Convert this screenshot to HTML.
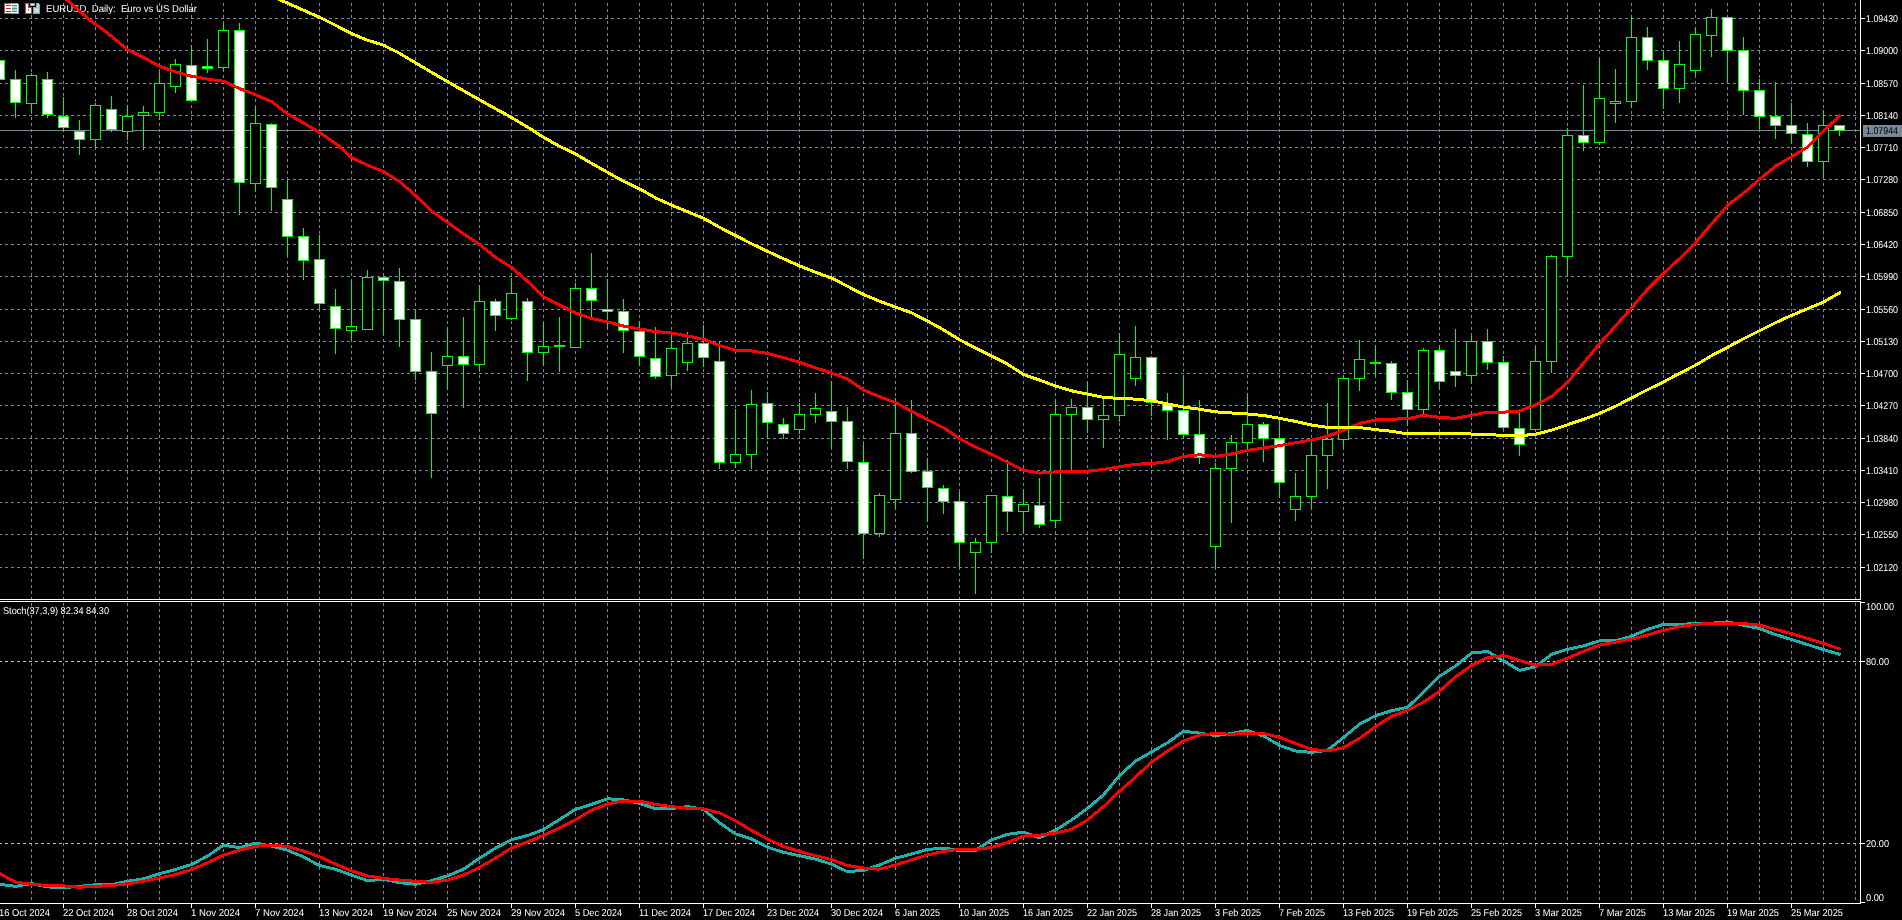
<!DOCTYPE html>
<html><head><meta charset="utf-8"><title>EURUSD, Daily</title>
<style>
html,body{margin:0;padding:0;background:#000;overflow:hidden;}
svg{display:block;}
text{font-family:"Liberation Sans",Arial,sans-serif;font-size:10px;fill:#fff;text-rendering:geometricPrecision;}
.t{will-change:transform;}
</style></head><body>
<svg width="1902" height="920" viewBox="0 0 1902 920">
<rect x="0" y="0" width="1902" height="920" fill="#000"/>
<g stroke="#778899" stroke-width="1" shape-rendering="crispEdges" stroke-dasharray="3 3">
<line x1="0" y1="18.5" x2="1857" y2="18.5" stroke-dashoffset="1"/>
<line x1="0" y1="50.5" x2="1857" y2="50.5" stroke-dashoffset="1"/>
<line x1="0" y1="83.5" x2="1857" y2="83.5" stroke-dashoffset="1"/>
<line x1="0" y1="115.5" x2="1857" y2="115.5" stroke-dashoffset="1"/>
<line x1="0" y1="147.5" x2="1857" y2="147.5" stroke-dashoffset="1"/>
<line x1="0" y1="179.5" x2="1857" y2="179.5" stroke-dashoffset="1"/>
<line x1="0" y1="212.5" x2="1857" y2="212.5" stroke-dashoffset="1"/>
<line x1="0" y1="244.5" x2="1857" y2="244.5" stroke-dashoffset="1"/>
<line x1="0" y1="276.5" x2="1857" y2="276.5" stroke-dashoffset="1"/>
<line x1="0" y1="309.5" x2="1857" y2="309.5" stroke-dashoffset="1"/>
<line x1="0" y1="341.5" x2="1857" y2="341.5" stroke-dashoffset="1"/>
<line x1="0" y1="373.5" x2="1857" y2="373.5" stroke-dashoffset="1"/>
<line x1="0" y1="405.5" x2="1857" y2="405.5" stroke-dashoffset="1"/>
<line x1="0" y1="438.5" x2="1857" y2="438.5" stroke-dashoffset="1"/>
<line x1="0" y1="470.5" x2="1857" y2="470.5" stroke-dashoffset="1"/>
<line x1="0" y1="502.5" x2="1857" y2="502.5" stroke-dashoffset="1"/>
<line x1="0" y1="534.5" x2="1857" y2="534.5" stroke-dashoffset="1"/>
<line x1="0" y1="567.5" x2="1857" y2="567.5" stroke-dashoffset="1"/>
<line x1="31.5" y1="0" x2="31.5" y2="599" stroke-dashoffset="3"/>
<line x1="31.5" y1="602" x2="31.5" y2="903" stroke-dashoffset="5"/>
<line x1="63.5" y1="0" x2="63.5" y2="599" stroke-dashoffset="3"/>
<line x1="63.5" y1="602" x2="63.5" y2="903" stroke-dashoffset="5"/>
<line x1="95.5" y1="0" x2="95.5" y2="599" stroke-dashoffset="3"/>
<line x1="95.5" y1="602" x2="95.5" y2="903" stroke-dashoffset="5"/>
<line x1="127.5" y1="0" x2="127.5" y2="599" stroke-dashoffset="3"/>
<line x1="127.5" y1="602" x2="127.5" y2="903" stroke-dashoffset="5"/>
<line x1="159.5" y1="0" x2="159.5" y2="599" stroke-dashoffset="3"/>
<line x1="159.5" y1="602" x2="159.5" y2="903" stroke-dashoffset="5"/>
<line x1="191.5" y1="0" x2="191.5" y2="599" stroke-dashoffset="3"/>
<line x1="191.5" y1="602" x2="191.5" y2="903" stroke-dashoffset="5"/>
<line x1="223.5" y1="0" x2="223.5" y2="599" stroke-dashoffset="3"/>
<line x1="223.5" y1="602" x2="223.5" y2="903" stroke-dashoffset="5"/>
<line x1="255.5" y1="0" x2="255.5" y2="599" stroke-dashoffset="3"/>
<line x1="255.5" y1="602" x2="255.5" y2="903" stroke-dashoffset="5"/>
<line x1="287.5" y1="0" x2="287.5" y2="599" stroke-dashoffset="3"/>
<line x1="287.5" y1="602" x2="287.5" y2="903" stroke-dashoffset="5"/>
<line x1="319.5" y1="0" x2="319.5" y2="599" stroke-dashoffset="3"/>
<line x1="319.5" y1="602" x2="319.5" y2="903" stroke-dashoffset="5"/>
<line x1="351.5" y1="0" x2="351.5" y2="599" stroke-dashoffset="3"/>
<line x1="351.5" y1="602" x2="351.5" y2="903" stroke-dashoffset="5"/>
<line x1="383.5" y1="0" x2="383.5" y2="599" stroke-dashoffset="3"/>
<line x1="383.5" y1="602" x2="383.5" y2="903" stroke-dashoffset="5"/>
<line x1="415.5" y1="0" x2="415.5" y2="599" stroke-dashoffset="3"/>
<line x1="415.5" y1="602" x2="415.5" y2="903" stroke-dashoffset="5"/>
<line x1="447.5" y1="0" x2="447.5" y2="599" stroke-dashoffset="3"/>
<line x1="447.5" y1="602" x2="447.5" y2="903" stroke-dashoffset="5"/>
<line x1="479.5" y1="0" x2="479.5" y2="599" stroke-dashoffset="3"/>
<line x1="479.5" y1="602" x2="479.5" y2="903" stroke-dashoffset="5"/>
<line x1="511.5" y1="0" x2="511.5" y2="599" stroke-dashoffset="3"/>
<line x1="511.5" y1="602" x2="511.5" y2="903" stroke-dashoffset="5"/>
<line x1="543.5" y1="0" x2="543.5" y2="599" stroke-dashoffset="3"/>
<line x1="543.5" y1="602" x2="543.5" y2="903" stroke-dashoffset="5"/>
<line x1="575.5" y1="0" x2="575.5" y2="599" stroke-dashoffset="3"/>
<line x1="575.5" y1="602" x2="575.5" y2="903" stroke-dashoffset="5"/>
<line x1="607.5" y1="0" x2="607.5" y2="599" stroke-dashoffset="3"/>
<line x1="607.5" y1="602" x2="607.5" y2="903" stroke-dashoffset="5"/>
<line x1="639.5" y1="0" x2="639.5" y2="599" stroke-dashoffset="3"/>
<line x1="639.5" y1="602" x2="639.5" y2="903" stroke-dashoffset="5"/>
<line x1="671.5" y1="0" x2="671.5" y2="599" stroke-dashoffset="3"/>
<line x1="671.5" y1="602" x2="671.5" y2="903" stroke-dashoffset="5"/>
<line x1="703.5" y1="0" x2="703.5" y2="599" stroke-dashoffset="3"/>
<line x1="703.5" y1="602" x2="703.5" y2="903" stroke-dashoffset="5"/>
<line x1="735.5" y1="0" x2="735.5" y2="599" stroke-dashoffset="3"/>
<line x1="735.5" y1="602" x2="735.5" y2="903" stroke-dashoffset="5"/>
<line x1="767.5" y1="0" x2="767.5" y2="599" stroke-dashoffset="3"/>
<line x1="767.5" y1="602" x2="767.5" y2="903" stroke-dashoffset="5"/>
<line x1="799.5" y1="0" x2="799.5" y2="599" stroke-dashoffset="3"/>
<line x1="799.5" y1="602" x2="799.5" y2="903" stroke-dashoffset="5"/>
<line x1="831.5" y1="0" x2="831.5" y2="599" stroke-dashoffset="3"/>
<line x1="831.5" y1="602" x2="831.5" y2="903" stroke-dashoffset="5"/>
<line x1="863.5" y1="0" x2="863.5" y2="599" stroke-dashoffset="3"/>
<line x1="863.5" y1="602" x2="863.5" y2="903" stroke-dashoffset="5"/>
<line x1="895.5" y1="0" x2="895.5" y2="599" stroke-dashoffset="3"/>
<line x1="895.5" y1="602" x2="895.5" y2="903" stroke-dashoffset="5"/>
<line x1="927.5" y1="0" x2="927.5" y2="599" stroke-dashoffset="3"/>
<line x1="927.5" y1="602" x2="927.5" y2="903" stroke-dashoffset="5"/>
<line x1="959.5" y1="0" x2="959.5" y2="599" stroke-dashoffset="3"/>
<line x1="959.5" y1="602" x2="959.5" y2="903" stroke-dashoffset="5"/>
<line x1="991.5" y1="0" x2="991.5" y2="599" stroke-dashoffset="3"/>
<line x1="991.5" y1="602" x2="991.5" y2="903" stroke-dashoffset="5"/>
<line x1="1023.5" y1="0" x2="1023.5" y2="599" stroke-dashoffset="3"/>
<line x1="1023.5" y1="602" x2="1023.5" y2="903" stroke-dashoffset="5"/>
<line x1="1055.5" y1="0" x2="1055.5" y2="599" stroke-dashoffset="3"/>
<line x1="1055.5" y1="602" x2="1055.5" y2="903" stroke-dashoffset="5"/>
<line x1="1087.5" y1="0" x2="1087.5" y2="599" stroke-dashoffset="3"/>
<line x1="1087.5" y1="602" x2="1087.5" y2="903" stroke-dashoffset="5"/>
<line x1="1119.5" y1="0" x2="1119.5" y2="599" stroke-dashoffset="3"/>
<line x1="1119.5" y1="602" x2="1119.5" y2="903" stroke-dashoffset="5"/>
<line x1="1151.5" y1="0" x2="1151.5" y2="599" stroke-dashoffset="3"/>
<line x1="1151.5" y1="602" x2="1151.5" y2="903" stroke-dashoffset="5"/>
<line x1="1183.5" y1="0" x2="1183.5" y2="599" stroke-dashoffset="3"/>
<line x1="1183.5" y1="602" x2="1183.5" y2="903" stroke-dashoffset="5"/>
<line x1="1215.5" y1="0" x2="1215.5" y2="599" stroke-dashoffset="3"/>
<line x1="1215.5" y1="602" x2="1215.5" y2="903" stroke-dashoffset="5"/>
<line x1="1247.5" y1="0" x2="1247.5" y2="599" stroke-dashoffset="3"/>
<line x1="1247.5" y1="602" x2="1247.5" y2="903" stroke-dashoffset="5"/>
<line x1="1279.5" y1="0" x2="1279.5" y2="599" stroke-dashoffset="3"/>
<line x1="1279.5" y1="602" x2="1279.5" y2="903" stroke-dashoffset="5"/>
<line x1="1311.5" y1="0" x2="1311.5" y2="599" stroke-dashoffset="3"/>
<line x1="1311.5" y1="602" x2="1311.5" y2="903" stroke-dashoffset="5"/>
<line x1="1343.5" y1="0" x2="1343.5" y2="599" stroke-dashoffset="3"/>
<line x1="1343.5" y1="602" x2="1343.5" y2="903" stroke-dashoffset="5"/>
<line x1="1375.5" y1="0" x2="1375.5" y2="599" stroke-dashoffset="3"/>
<line x1="1375.5" y1="602" x2="1375.5" y2="903" stroke-dashoffset="5"/>
<line x1="1407.5" y1="0" x2="1407.5" y2="599" stroke-dashoffset="3"/>
<line x1="1407.5" y1="602" x2="1407.5" y2="903" stroke-dashoffset="5"/>
<line x1="1439.5" y1="0" x2="1439.5" y2="599" stroke-dashoffset="3"/>
<line x1="1439.5" y1="602" x2="1439.5" y2="903" stroke-dashoffset="5"/>
<line x1="1471.5" y1="0" x2="1471.5" y2="599" stroke-dashoffset="3"/>
<line x1="1471.5" y1="602" x2="1471.5" y2="903" stroke-dashoffset="5"/>
<line x1="1503.5" y1="0" x2="1503.5" y2="599" stroke-dashoffset="3"/>
<line x1="1503.5" y1="602" x2="1503.5" y2="903" stroke-dashoffset="5"/>
<line x1="1535.5" y1="0" x2="1535.5" y2="599" stroke-dashoffset="3"/>
<line x1="1535.5" y1="602" x2="1535.5" y2="903" stroke-dashoffset="5"/>
<line x1="1567.5" y1="0" x2="1567.5" y2="599" stroke-dashoffset="3"/>
<line x1="1567.5" y1="602" x2="1567.5" y2="903" stroke-dashoffset="5"/>
<line x1="1599.5" y1="0" x2="1599.5" y2="599" stroke-dashoffset="3"/>
<line x1="1599.5" y1="602" x2="1599.5" y2="903" stroke-dashoffset="5"/>
<line x1="1631.5" y1="0" x2="1631.5" y2="599" stroke-dashoffset="3"/>
<line x1="1631.5" y1="602" x2="1631.5" y2="903" stroke-dashoffset="5"/>
<line x1="1663.5" y1="0" x2="1663.5" y2="599" stroke-dashoffset="3"/>
<line x1="1663.5" y1="602" x2="1663.5" y2="903" stroke-dashoffset="5"/>
<line x1="1695.5" y1="0" x2="1695.5" y2="599" stroke-dashoffset="3"/>
<line x1="1695.5" y1="602" x2="1695.5" y2="903" stroke-dashoffset="5"/>
<line x1="1727.5" y1="0" x2="1727.5" y2="599" stroke-dashoffset="3"/>
<line x1="1727.5" y1="602" x2="1727.5" y2="903" stroke-dashoffset="5"/>
<line x1="1759.5" y1="0" x2="1759.5" y2="599" stroke-dashoffset="3"/>
<line x1="1759.5" y1="602" x2="1759.5" y2="903" stroke-dashoffset="5"/>
<line x1="1791.5" y1="0" x2="1791.5" y2="599" stroke-dashoffset="3"/>
<line x1="1791.5" y1="602" x2="1791.5" y2="903" stroke-dashoffset="5"/>
<line x1="1823.5" y1="0" x2="1823.5" y2="599" stroke-dashoffset="3"/>
<line x1="1823.5" y1="602" x2="1823.5" y2="903" stroke-dashoffset="5"/>
<line x1="1855.5" y1="0" x2="1855.5" y2="599" stroke-dashoffset="3"/>
<line x1="1855.5" y1="602" x2="1855.5" y2="903" stroke-dashoffset="5"/>
</g>
<g stroke="#c0c0c0" stroke-width="1" shape-rendering="crispEdges" stroke-dasharray="3 3">
<line x1="0" y1="661.5" x2="1860" y2="661.5" stroke-dashoffset="1"/>
<line x1="0" y1="843.5" x2="1860" y2="843.5" stroke-dashoffset="1"/>
</g>
<g class="t"><text x="46" y="12" font-size="10" textLength="151" lengthAdjust="spacingAndGlyphs">EURUSD, Daily:&#160; Euro vs US Dollar</text></g>
<line x1="0" y1="130.5" x2="1860" y2="130.5" stroke="#778899" stroke-width="1" shape-rendering="crispEdges"/>
<g shape-rendering="crispEdges">
<rect x="-1" y="55" width="1" height="30" fill="#00ff00"/><rect x="-6" y="60" width="11" height="20" fill="#00ff00"/><rect x="-5" y="61" width="9" height="18" fill="#fff"/>
<rect x="15" y="70" width="1" height="48" fill="#00ff00"/><rect x="10" y="79" width="11" height="24" fill="#00ff00"/><rect x="11" y="80" width="9" height="22" fill="#fff"/>
<rect x="31" y="73" width="1" height="38" fill="#00ff00"/><rect x="26" y="75" width="11" height="29" fill="#00ff00"/><rect x="27" y="76" width="9" height="27" fill="#000"/>
<rect x="47" y="72" width="1" height="46" fill="#00ff00"/><rect x="42" y="79" width="11" height="36" fill="#00ff00"/><rect x="43" y="80" width="9" height="34" fill="#fff"/>
<rect x="63" y="97" width="1" height="35" fill="#00ff00"/><rect x="58" y="116" width="11" height="12" fill="#00ff00"/><rect x="59" y="117" width="9" height="10" fill="#fff"/>
<rect x="79" y="120" width="1" height="35" fill="#00ff00"/><rect x="74" y="131" width="11" height="9" fill="#00ff00"/><rect x="75" y="132" width="9" height="7" fill="#fff"/>
<rect x="95" y="103" width="1" height="45" fill="#00ff00"/><rect x="90" y="105" width="11" height="35" fill="#00ff00"/><rect x="91" y="106" width="9" height="33" fill="#000"/>
<rect x="111" y="96" width="1" height="36" fill="#00ff00"/><rect x="106" y="109" width="11" height="21" fill="#00ff00"/><rect x="107" y="110" width="9" height="19" fill="#fff"/>
<rect x="127" y="105" width="1" height="35" fill="#00ff00"/><rect x="122" y="116" width="11" height="16" fill="#00ff00"/><rect x="123" y="117" width="9" height="14" fill="#000"/>
<rect x="143" y="106" width="1" height="44" fill="#00ff00"/><rect x="138" y="112" width="11" height="4" fill="#00ff00"/><rect x="139" y="113" width="9" height="2" fill="#000"/>
<rect x="159" y="72" width="1" height="48" fill="#00ff00"/><rect x="154" y="83" width="11" height="30" fill="#00ff00"/><rect x="155" y="84" width="9" height="28" fill="#000"/>
<rect x="175" y="59" width="1" height="34" fill="#00ff00"/><rect x="170" y="64" width="11" height="23" fill="#00ff00"/><rect x="171" y="65" width="9" height="21" fill="#000"/>
<rect x="191" y="45" width="1" height="57" fill="#00ff00"/><rect x="186" y="65" width="11" height="36" fill="#00ff00"/><rect x="187" y="66" width="9" height="34" fill="#fff"/>
<rect x="207" y="39" width="1" height="34" fill="#00ff00"/><rect x="202" y="66" width="11" height="3" fill="#00ff00"/><rect x="203" y="67" width="9" height="1" fill="#fff"/>
<rect x="223" y="23" width="1" height="48" fill="#00ff00"/><rect x="218" y="30" width="11" height="38" fill="#00ff00"/><rect x="219" y="31" width="9" height="36" fill="#000"/>
<rect x="239" y="23" width="1" height="192" fill="#00ff00"/><rect x="234" y="30" width="11" height="153" fill="#00ff00"/><rect x="235" y="31" width="9" height="151" fill="#fff"/>
<rect x="255" y="107" width="1" height="84" fill="#00ff00"/><rect x="250" y="123" width="11" height="61" fill="#00ff00"/><rect x="251" y="124" width="9" height="59" fill="#000"/>
<rect x="271" y="123" width="1" height="88" fill="#00ff00"/><rect x="266" y="124" width="11" height="64" fill="#00ff00"/><rect x="267" y="125" width="9" height="62" fill="#fff"/>
<rect x="287" y="180" width="1" height="75" fill="#00ff00"/><rect x="282" y="199" width="11" height="38" fill="#00ff00"/><rect x="283" y="200" width="9" height="36" fill="#fff"/>
<rect x="303" y="228" width="1" height="52" fill="#00ff00"/><rect x="298" y="236" width="11" height="25" fill="#00ff00"/><rect x="299" y="237" width="9" height="23" fill="#fff"/>
<rect x="319" y="235" width="1" height="75" fill="#00ff00"/><rect x="314" y="259" width="11" height="45" fill="#00ff00"/><rect x="315" y="260" width="9" height="43" fill="#fff"/>
<rect x="335" y="289" width="1" height="65" fill="#00ff00"/><rect x="330" y="306" width="11" height="23" fill="#00ff00"/><rect x="331" y="307" width="9" height="21" fill="#fff"/>
<rect x="351" y="280" width="1" height="60" fill="#00ff00"/><rect x="346" y="326" width="11" height="5" fill="#00ff00"/><rect x="347" y="327" width="9" height="3" fill="#000"/>
<rect x="367" y="270" width="1" height="60" fill="#00ff00"/><rect x="362" y="277" width="11" height="53" fill="#00ff00"/><rect x="363" y="278" width="9" height="51" fill="#000"/>
<rect x="383" y="276" width="1" height="59" fill="#00ff00"/><rect x="378" y="277" width="11" height="4" fill="#00ff00"/><rect x="379" y="278" width="9" height="2" fill="#fff"/>
<rect x="399" y="268" width="1" height="79" fill="#00ff00"/><rect x="394" y="281" width="11" height="39" fill="#00ff00"/><rect x="395" y="282" width="9" height="37" fill="#fff"/>
<rect x="415" y="309" width="1" height="71" fill="#00ff00"/><rect x="410" y="319" width="11" height="53" fill="#00ff00"/><rect x="411" y="320" width="9" height="51" fill="#fff"/>
<rect x="431" y="352" width="1" height="126" fill="#00ff00"/><rect x="426" y="371" width="11" height="43" fill="#00ff00"/><rect x="427" y="372" width="9" height="41" fill="#fff"/>
<rect x="447" y="327" width="1" height="63" fill="#00ff00"/><rect x="442" y="356" width="11" height="10" fill="#00ff00"/><rect x="443" y="357" width="9" height="8" fill="#000"/>
<rect x="463" y="317" width="1" height="91" fill="#00ff00"/><rect x="458" y="356" width="11" height="9" fill="#00ff00"/><rect x="459" y="357" width="9" height="7" fill="#fff"/>
<rect x="479" y="285" width="1" height="86" fill="#00ff00"/><rect x="474" y="301" width="11" height="64" fill="#00ff00"/><rect x="475" y="302" width="9" height="62" fill="#000"/>
<rect x="495" y="299" width="1" height="32" fill="#00ff00"/><rect x="490" y="301" width="11" height="15" fill="#00ff00"/><rect x="491" y="302" width="9" height="13" fill="#fff"/>
<rect x="511" y="278" width="1" height="42" fill="#00ff00"/><rect x="506" y="293" width="11" height="26" fill="#00ff00"/><rect x="507" y="294" width="9" height="24" fill="#000"/>
<rect x="527" y="298" width="1" height="83" fill="#00ff00"/><rect x="522" y="301" width="11" height="52" fill="#00ff00"/><rect x="523" y="302" width="9" height="50" fill="#fff"/>
<rect x="543" y="323" width="1" height="43" fill="#00ff00"/><rect x="538" y="346" width="11" height="7" fill="#00ff00"/><rect x="539" y="347" width="9" height="5" fill="#000"/>
<rect x="559" y="317" width="1" height="55" fill="#00ff00"/><rect x="554" y="345" width="11" height="2" fill="#00ff00"/>
<rect x="575" y="283" width="1" height="65" fill="#00ff00"/><rect x="570" y="288" width="11" height="60" fill="#00ff00"/><rect x="571" y="289" width="9" height="58" fill="#000"/>
<rect x="591" y="253" width="1" height="65" fill="#00ff00"/><rect x="586" y="288" width="11" height="13" fill="#00ff00"/><rect x="587" y="289" width="9" height="11" fill="#fff"/>
<rect x="607" y="279" width="1" height="50" fill="#00ff00"/><rect x="602" y="309" width="11" height="3" fill="#00ff00"/><rect x="603" y="310" width="9" height="1" fill="#fff"/>
<rect x="623" y="299" width="1" height="54" fill="#00ff00"/><rect x="618" y="311" width="11" height="20" fill="#00ff00"/><rect x="619" y="312" width="9" height="18" fill="#fff"/>
<rect x="639" y="321" width="1" height="45" fill="#00ff00"/><rect x="634" y="331" width="11" height="26" fill="#00ff00"/><rect x="635" y="332" width="9" height="24" fill="#fff"/>
<rect x="655" y="327" width="1" height="52" fill="#00ff00"/><rect x="650" y="358" width="11" height="19" fill="#00ff00"/><rect x="651" y="359" width="9" height="17" fill="#fff"/>
<rect x="671" y="334" width="1" height="53" fill="#00ff00"/><rect x="666" y="348" width="11" height="28" fill="#00ff00"/><rect x="667" y="349" width="9" height="26" fill="#000"/>
<rect x="687" y="332" width="1" height="39" fill="#00ff00"/><rect x="682" y="343" width="11" height="20" fill="#00ff00"/><rect x="683" y="344" width="9" height="18" fill="#000"/>
<rect x="703" y="325" width="1" height="42" fill="#00ff00"/><rect x="698" y="343" width="11" height="15" fill="#00ff00"/><rect x="699" y="344" width="9" height="13" fill="#fff"/>
<rect x="719" y="341" width="1" height="128" fill="#00ff00"/><rect x="714" y="361" width="11" height="102" fill="#00ff00"/><rect x="715" y="362" width="9" height="100" fill="#fff"/>
<rect x="735" y="409" width="1" height="59" fill="#00ff00"/><rect x="730" y="454" width="11" height="9" fill="#00ff00"/><rect x="731" y="455" width="9" height="7" fill="#000"/>
<rect x="751" y="390" width="1" height="79" fill="#00ff00"/><rect x="746" y="404" width="11" height="51" fill="#00ff00"/><rect x="747" y="405" width="9" height="49" fill="#000"/>
<rect x="767" y="392" width="1" height="47" fill="#00ff00"/><rect x="762" y="403" width="11" height="20" fill="#00ff00"/><rect x="763" y="404" width="9" height="18" fill="#fff"/>
<rect x="783" y="418" width="1" height="21" fill="#00ff00"/><rect x="778" y="424" width="11" height="10" fill="#00ff00"/><rect x="779" y="425" width="9" height="8" fill="#fff"/>
<rect x="799" y="403" width="1" height="31" fill="#00ff00"/><rect x="794" y="414" width="11" height="16" fill="#00ff00"/><rect x="795" y="415" width="9" height="14" fill="#000"/>
<rect x="815" y="393" width="1" height="30" fill="#00ff00"/><rect x="810" y="408" width="11" height="7" fill="#00ff00"/><rect x="811" y="409" width="9" height="5" fill="#000"/>
<rect x="831" y="381" width="1" height="67" fill="#00ff00"/><rect x="826" y="411" width="11" height="11" fill="#00ff00"/><rect x="827" y="412" width="9" height="9" fill="#fff"/>
<rect x="847" y="407" width="1" height="62" fill="#00ff00"/><rect x="842" y="421" width="11" height="41" fill="#00ff00"/><rect x="843" y="422" width="9" height="39" fill="#fff"/>
<rect x="863" y="444" width="1" height="115" fill="#00ff00"/><rect x="858" y="462" width="11" height="72" fill="#00ff00"/><rect x="859" y="463" width="9" height="70" fill="#fff"/>
<rect x="879" y="493" width="1" height="44" fill="#00ff00"/><rect x="874" y="495" width="11" height="39" fill="#00ff00"/><rect x="875" y="496" width="9" height="37" fill="#000"/>
<rect x="895" y="398" width="1" height="111" fill="#00ff00"/><rect x="890" y="433" width="11" height="67" fill="#00ff00"/><rect x="891" y="434" width="9" height="65" fill="#000"/>
<rect x="911" y="400" width="1" height="73" fill="#00ff00"/><rect x="906" y="433" width="11" height="39" fill="#00ff00"/><rect x="907" y="434" width="9" height="37" fill="#fff"/>
<rect x="927" y="458" width="1" height="64" fill="#00ff00"/><rect x="922" y="471" width="11" height="17" fill="#00ff00"/><rect x="923" y="472" width="9" height="15" fill="#fff"/>
<rect x="943" y="485" width="1" height="29" fill="#00ff00"/><rect x="938" y="488" width="11" height="14" fill="#00ff00"/><rect x="939" y="489" width="9" height="12" fill="#fff"/>
<rect x="959" y="492" width="1" height="75" fill="#00ff00"/><rect x="954" y="501" width="11" height="42" fill="#00ff00"/><rect x="955" y="502" width="9" height="40" fill="#fff"/>
<rect x="975" y="538" width="1" height="56" fill="#00ff00"/><rect x="970" y="542" width="11" height="11" fill="#00ff00"/><rect x="971" y="543" width="9" height="9" fill="#000"/>
<rect x="991" y="495" width="1" height="58" fill="#00ff00"/><rect x="986" y="495" width="11" height="48" fill="#00ff00"/><rect x="987" y="496" width="9" height="46" fill="#000"/>
<rect x="1007" y="460" width="1" height="72" fill="#00ff00"/><rect x="1002" y="496" width="11" height="16" fill="#00ff00"/><rect x="1003" y="497" width="9" height="14" fill="#fff"/>
<rect x="1023" y="489" width="1" height="44" fill="#00ff00"/><rect x="1018" y="504" width="11" height="8" fill="#00ff00"/><rect x="1019" y="505" width="9" height="6" fill="#000"/>
<rect x="1039" y="478" width="1" height="50" fill="#00ff00"/><rect x="1034" y="505" width="11" height="20" fill="#00ff00"/><rect x="1035" y="506" width="9" height="18" fill="#fff"/>
<rect x="1055" y="399" width="1" height="129" fill="#00ff00"/><rect x="1050" y="414" width="11" height="107" fill="#00ff00"/><rect x="1051" y="415" width="9" height="105" fill="#000"/>
<rect x="1071" y="399" width="1" height="71" fill="#00ff00"/><rect x="1066" y="407" width="11" height="8" fill="#00ff00"/><rect x="1067" y="408" width="9" height="6" fill="#000"/>
<rect x="1087" y="382" width="1" height="51" fill="#00ff00"/><rect x="1082" y="407" width="11" height="13" fill="#00ff00"/><rect x="1083" y="408" width="9" height="11" fill="#fff"/>
<rect x="1103" y="398" width="1" height="50" fill="#00ff00"/><rect x="1098" y="415" width="11" height="5" fill="#00ff00"/><rect x="1099" y="416" width="9" height="3" fill="#000"/>
<rect x="1119" y="333" width="1" height="89" fill="#00ff00"/><rect x="1114" y="354" width="11" height="62" fill="#00ff00"/><rect x="1115" y="355" width="9" height="60" fill="#000"/>
<rect x="1135" y="326" width="1" height="60" fill="#00ff00"/><rect x="1130" y="357" width="11" height="22" fill="#00ff00"/><rect x="1131" y="358" width="9" height="20" fill="#000"/>
<rect x="1151" y="356" width="1" height="60" fill="#00ff00"/><rect x="1146" y="357" width="11" height="46" fill="#00ff00"/><rect x="1147" y="358" width="9" height="44" fill="#fff"/>
<rect x="1167" y="393" width="1" height="47" fill="#00ff00"/><rect x="1162" y="403" width="11" height="8" fill="#00ff00"/><rect x="1163" y="404" width="9" height="6" fill="#fff"/>
<rect x="1183" y="375" width="1" height="62" fill="#00ff00"/><rect x="1178" y="410" width="11" height="25" fill="#00ff00"/><rect x="1179" y="411" width="9" height="23" fill="#fff"/>
<rect x="1199" y="400" width="1" height="64" fill="#00ff00"/><rect x="1194" y="434" width="11" height="24" fill="#00ff00"/><rect x="1195" y="435" width="9" height="22" fill="#fff"/>
<rect x="1215" y="463" width="1" height="106" fill="#00ff00"/><rect x="1210" y="468" width="11" height="79" fill="#00ff00"/><rect x="1211" y="469" width="9" height="77" fill="#000"/>
<rect x="1231" y="435" width="1" height="88" fill="#00ff00"/><rect x="1226" y="442" width="11" height="27" fill="#00ff00"/><rect x="1227" y="443" width="9" height="25" fill="#000"/>
<rect x="1247" y="393" width="1" height="56" fill="#00ff00"/><rect x="1242" y="424" width="11" height="19" fill="#00ff00"/><rect x="1243" y="425" width="9" height="17" fill="#000"/>
<rect x="1263" y="422" width="1" height="40" fill="#00ff00"/><rect x="1258" y="424" width="11" height="15" fill="#00ff00"/><rect x="1259" y="425" width="9" height="13" fill="#fff"/>
<rect x="1279" y="420" width="1" height="78" fill="#00ff00"/><rect x="1274" y="438" width="11" height="45" fill="#00ff00"/><rect x="1275" y="439" width="9" height="43" fill="#fff"/>
<rect x="1295" y="473" width="1" height="48" fill="#00ff00"/><rect x="1290" y="496" width="11" height="14" fill="#00ff00"/><rect x="1291" y="497" width="9" height="12" fill="#000"/>
<rect x="1311" y="443" width="1" height="66" fill="#00ff00"/><rect x="1306" y="455" width="11" height="42" fill="#00ff00"/><rect x="1307" y="456" width="9" height="40" fill="#000"/>
<rect x="1327" y="403" width="1" height="86" fill="#00ff00"/><rect x="1322" y="439" width="11" height="17" fill="#00ff00"/><rect x="1323" y="440" width="9" height="15" fill="#000"/>
<rect x="1343" y="375" width="1" height="72" fill="#00ff00"/><rect x="1338" y="378" width="11" height="62" fill="#00ff00"/><rect x="1339" y="379" width="9" height="60" fill="#000"/>
<rect x="1359" y="340" width="1" height="51" fill="#00ff00"/><rect x="1354" y="359" width="11" height="20" fill="#00ff00"/><rect x="1355" y="360" width="9" height="18" fill="#000"/>
<rect x="1375" y="345" width="1" height="31" fill="#00ff00"/><rect x="1370" y="362" width="11" height="2" fill="#00ff00"/>
<rect x="1391" y="361" width="1" height="39" fill="#00ff00"/><rect x="1386" y="363" width="11" height="30" fill="#00ff00"/><rect x="1387" y="364" width="9" height="28" fill="#fff"/>
<rect x="1407" y="380" width="1" height="46" fill="#00ff00"/><rect x="1402" y="392" width="11" height="18" fill="#00ff00"/><rect x="1403" y="393" width="9" height="16" fill="#fff"/>
<rect x="1423" y="348" width="1" height="66" fill="#00ff00"/><rect x="1418" y="350" width="11" height="60" fill="#00ff00"/><rect x="1419" y="351" width="9" height="58" fill="#000"/>
<rect x="1439" y="346" width="1" height="44" fill="#00ff00"/><rect x="1434" y="350" width="11" height="32" fill="#00ff00"/><rect x="1435" y="351" width="9" height="30" fill="#fff"/>
<rect x="1455" y="329" width="1" height="58" fill="#00ff00"/><rect x="1450" y="371" width="11" height="5" fill="#00ff00"/><rect x="1451" y="372" width="9" height="3" fill="#fff"/>
<rect x="1471" y="336" width="1" height="47" fill="#00ff00"/><rect x="1466" y="341" width="11" height="35" fill="#00ff00"/><rect x="1467" y="342" width="9" height="33" fill="#000"/>
<rect x="1487" y="329" width="1" height="41" fill="#00ff00"/><rect x="1482" y="341" width="11" height="22" fill="#00ff00"/><rect x="1483" y="342" width="9" height="20" fill="#fff"/>
<rect x="1503" y="356" width="1" height="74" fill="#00ff00"/><rect x="1498" y="362" width="11" height="66" fill="#00ff00"/><rect x="1499" y="363" width="9" height="64" fill="#fff"/>
<rect x="1519" y="413" width="1" height="43" fill="#00ff00"/><rect x="1514" y="428" width="11" height="17" fill="#00ff00"/><rect x="1515" y="429" width="9" height="15" fill="#fff"/>
<rect x="1535" y="347" width="1" height="84" fill="#00ff00"/><rect x="1530" y="361" width="11" height="69" fill="#00ff00"/><rect x="1531" y="362" width="9" height="67" fill="#000"/>
<rect x="1551" y="255" width="1" height="118" fill="#00ff00"/><rect x="1546" y="256" width="11" height="106" fill="#00ff00"/><rect x="1547" y="257" width="9" height="104" fill="#000"/>
<rect x="1567" y="128" width="1" height="148" fill="#00ff00"/><rect x="1562" y="135" width="11" height="122" fill="#00ff00"/><rect x="1563" y="136" width="9" height="120" fill="#000"/>
<rect x="1583" y="85" width="1" height="66" fill="#00ff00"/><rect x="1578" y="135" width="11" height="8" fill="#00ff00"/><rect x="1579" y="136" width="9" height="6" fill="#fff"/>
<rect x="1599" y="58" width="1" height="87" fill="#00ff00"/><rect x="1594" y="98" width="11" height="45" fill="#00ff00"/><rect x="1595" y="99" width="9" height="43" fill="#000"/>
<rect x="1615" y="69" width="1" height="54" fill="#00ff00"/><rect x="1610" y="101" width="11" height="3" fill="#00ff00"/><rect x="1611" y="102" width="9" height="1" fill="#000"/>
<rect x="1631" y="15" width="1" height="93" fill="#00ff00"/><rect x="1626" y="37" width="11" height="65" fill="#00ff00"/><rect x="1627" y="38" width="9" height="63" fill="#000"/>
<rect x="1647" y="27" width="1" height="43" fill="#00ff00"/><rect x="1642" y="37" width="11" height="24" fill="#00ff00"/><rect x="1643" y="38" width="9" height="22" fill="#fff"/>
<rect x="1663" y="51" width="1" height="58" fill="#00ff00"/><rect x="1658" y="60" width="11" height="29" fill="#00ff00"/><rect x="1659" y="61" width="9" height="27" fill="#fff"/>
<rect x="1679" y="41" width="1" height="62" fill="#00ff00"/><rect x="1674" y="64" width="11" height="25" fill="#00ff00"/><rect x="1675" y="65" width="9" height="23" fill="#000"/>
<rect x="1695" y="28" width="1" height="47" fill="#00ff00"/><rect x="1690" y="34" width="11" height="37" fill="#00ff00"/><rect x="1691" y="35" width="9" height="35" fill="#000"/>
<rect x="1711" y="9" width="1" height="48" fill="#00ff00"/><rect x="1706" y="17" width="11" height="19" fill="#00ff00"/><rect x="1707" y="18" width="9" height="17" fill="#000"/>
<rect x="1727" y="16" width="1" height="67" fill="#00ff00"/><rect x="1722" y="17" width="11" height="34" fill="#00ff00"/><rect x="1723" y="18" width="9" height="32" fill="#fff"/>
<rect x="1743" y="37" width="1" height="78" fill="#00ff00"/><rect x="1738" y="50" width="11" height="41" fill="#00ff00"/><rect x="1739" y="51" width="9" height="39" fill="#fff"/>
<rect x="1759" y="79" width="1" height="50" fill="#00ff00"/><rect x="1754" y="90" width="11" height="27" fill="#00ff00"/><rect x="1755" y="91" width="9" height="25" fill="#fff"/>
<rect x="1775" y="82" width="1" height="57" fill="#00ff00"/><rect x="1770" y="116" width="11" height="10" fill="#00ff00"/><rect x="1771" y="117" width="9" height="8" fill="#fff"/>
<rect x="1791" y="103" width="1" height="40" fill="#00ff00"/><rect x="1786" y="125" width="11" height="9" fill="#00ff00"/><rect x="1787" y="126" width="9" height="7" fill="#fff"/>
<rect x="1807" y="123" width="1" height="44" fill="#00ff00"/><rect x="1802" y="134" width="11" height="28" fill="#00ff00"/><rect x="1803" y="135" width="9" height="26" fill="#fff"/>
<rect x="1823" y="110" width="1" height="68" fill="#00ff00"/><rect x="1818" y="125" width="11" height="37" fill="#00ff00"/><rect x="1819" y="126" width="9" height="35" fill="#000"/>
<rect x="1839" y="125" width="1" height="11" fill="#00ff00"/><rect x="1834" y="125" width="11" height="6" fill="#00ff00"/><rect x="1835" y="126" width="9" height="4" fill="#fff"/>
</g>
<polyline points="60.0,-5.0 67.0,0.0 89.8,20.0 106.5,32.2 127.5,49.7 144.6,58.0 159.8,66.4 175.0,71.7 190.4,76.0 207.0,79.0 223.8,81.3 239.4,88.5 255.0,94.5 271.7,101.7 288.0,114.1 304.0,123.2 319.7,132.6 338.6,145.7 351.7,157.6 367.0,165.0 383.6,171.7 399.5,181.5 415.6,195.6 431.9,211.3 447.6,222.4 463.9,234.1 479.5,244.5 495.8,257.6 511.5,267.4 527.1,281.0 543.4,296.7 559.5,305.0 575.5,313.0 591.6,318.5 607.8,322.0 623.4,326.0 639.0,329.0 655.7,331.5 671.5,333.0 687.5,336.0 703.5,339.3 719.5,345.6 735.6,350.3 751.8,351.0 767.4,353.4 783.0,357.5 799.7,362.3 815.5,367.8 831.5,373.0 847.5,379.0 863.5,390.0 879.6,396.7 895.8,402.7 911.4,411.1 927.0,419.5 943.7,427.8 959.5,438.6 975.5,447.0 991.5,454.2 1007.5,462.3 1023.6,470.2 1039.8,473.1 1055.4,471.9 1071.4,471.4 1087.7,471.2 1103.5,469.5 1119.5,466.7 1135.5,464.3 1151.5,463.5 1167.6,461.6 1183.8,456.4 1199.4,454.7 1215.4,456.4 1231.7,454.0 1247.5,450.4 1263.5,448.0 1279.5,445.6 1296.0,442.7 1311.5,440.1 1327.2,436.2 1343.8,430.4 1359.3,423.5 1375.5,420.0 1391.5,419.1 1407.5,418.8 1423.5,415.3 1439.5,417.4 1455.5,418.3 1471.5,415.3 1487.5,412.2 1503.6,412.2 1519.8,411.0 1535.4,405.0 1551.4,396.7 1567.7,382.3 1583.5,363.2 1599.5,344.0 1615.5,326.1 1631.7,307.8 1647.3,289.6 1663.0,273.9 1680.0,258.3 1695.6,242.6 1711.2,224.4 1728.2,204.8 1743.8,193.0 1759.4,179.4 1775.4,166.3 1791.7,156.7 1807.5,147.1 1823.5,131.1 1839.5,116.0" fill="none" stroke="#ff0000" stroke-width="3" stroke-linejoin="round" stroke-linecap="round" shape-rendering="crispEdges"/>
<polyline points="270.0,-5.0 279.9,0.0 288.0,3.3 303.0,10.0 319.7,17.4 335.0,25.0 351.7,33.7 367.0,40.0 383.6,45.2 399.5,53.3 415.8,63.0 431.0,72.0 447.3,81.5 463.0,90.5 479.9,100.0 495.0,108.5 511.4,117.4 527.7,127.2 543.0,137.0 559.0,146.0 576.0,154.2 591.0,163.0 608.0,172.6 623.0,181.0 639.7,188.9 656.4,198.3 671.7,205.2 687.0,211.5 703.6,218.3 719.0,227.0 735.8,235.7 751.0,243.5 767.3,251.3 783.0,258.5 799.9,266.1 815.0,272.0 831.4,278.0 847.0,286.0 863.0,294.3 879.0,301.0 896.0,307.3 911.2,312.6 928.0,321.3 943.8,330.0 959.7,339.8 976.4,348.5 991.7,356.1 1006.9,363.7 1023.6,374.6 1039.5,380.0 1055.8,386.1 1072.0,390.9 1087.3,394.1 1103.6,397.4 1119.9,398.5 1135.1,399.1 1151.4,400.7 1167.7,403.9 1183.0,407.0 1199.4,409.2 1215.4,411.8 1231.7,413.0 1247.5,414.0 1263.5,415.5 1279.5,418.3 1296.0,421.5 1311.5,425.0 1327.2,427.4 1343.0,427.5 1359.3,427.5 1375.5,429.6 1391.5,431.3 1407.5,433.9 1423.0,433.9 1439.0,433.9 1455.0,433.9 1471.0,434.0 1488.0,434.8 1503.0,435.2 1519.8,435.7 1535.4,434.3 1551.4,430.2 1567.7,424.7 1583.5,419.4 1599.5,413.4 1615.5,406.3 1631.7,397.8 1647.0,390.0 1663.0,382.2 1679.0,373.7 1695.6,365.2 1711.0,356.0 1728.2,347.0 1743.0,339.0 1759.5,330.8 1775.0,323.0 1790.8,315.7 1807.0,309.0 1823.4,302.1 1839.8,292.7" fill="none" stroke="#ffff00" stroke-width="3" stroke-linejoin="round" stroke-linecap="round" shape-rendering="crispEdges"/>
<polyline points="-0.5,884.2 15.5,886.4 31.5,883.5 47.5,886.9 63.5,887.5 79.5,886.4 95.5,884.7 111.5,884.7 127.5,881.3 143.5,878.8 159.5,873.7 175.5,869.5 191.5,864.5 207.5,856.1 223.5,845.1 239.5,847.7 255.5,843.1 271.5,846.0 287.5,850.2 303.5,856.9 319.5,865.5 335.5,869.2 351.5,875.1 367.5,880.6 383.5,879.3 399.5,882.6 415.5,884.3 431.5,880.6 447.5,875.9 463.5,869.2 479.5,858.2 495.5,848.1 511.5,839.7 527.5,835.5 543.5,829.6 559.5,819.5 575.5,809.4 591.5,804.4 607.5,798.8 623.5,799.9 639.5,803.4 655.5,808.6 671.5,808.6 687.5,806.6 703.5,809.4 719.5,822.9 735.5,833.8 751.5,838.9 767.5,847.3 783.5,852.3 799.5,855.7 815.5,859.1 831.5,864.1 847.5,871.7 863.5,870.3 879.5,865.0 895.5,858.2 911.5,854.0 927.5,849.5 943.5,848.1 959.5,850.5 975.5,850.4 991.5,839.8 1007.5,834.4 1023.5,832.2 1039.5,837.8 1055.5,830.2 1071.5,820.1 1087.5,808.3 1103.5,794.9 1119.5,775.5 1135.5,761.2 1151.5,752.0 1167.5,742.7 1183.5,731.3 1199.5,733.1 1215.5,735.6 1231.5,733.5 1247.5,730.4 1263.5,736.0 1279.5,745.4 1295.5,751.0 1311.5,752.4 1327.5,750.2 1343.5,737.6 1359.5,724.1 1375.5,715.7 1391.5,710.7 1407.5,707.3 1423.5,692.2 1439.5,676.2 1455.5,666.1 1471.5,653.1 1487.5,651.4 1503.5,661.0 1519.5,670.3 1535.5,666.9 1551.5,654.3 1567.5,649.3 1583.5,645.9 1599.5,640.9 1615.5,640.9 1631.5,636.2 1647.5,629.4 1663.5,624.4 1679.5,624.4 1695.5,623.6 1711.5,623.2 1727.5,621.9 1743.5,625.2 1759.5,628.6 1775.5,634.5 1791.5,639.5 1807.5,644.6 1823.5,649.6 1839.5,654.3" fill="none" stroke="#20b2aa" stroke-width="3" stroke-linejoin="round" stroke-linecap="round" shape-rendering="crispEdges"/>
<polyline points="-0.5,873.4 15.5,882.2 31.5,884.2 47.5,885.5 63.5,885.9 79.5,887.2 95.5,886.4 111.5,885.5 127.5,883.8 143.5,881.3 159.5,877.9 175.5,874.6 191.5,869.5 207.5,862.8 223.5,855.2 239.5,850.2 255.5,846.3 271.5,845.1 287.5,846.5 303.5,851.0 319.5,856.7 335.5,864.1 351.5,870.8 367.5,875.9 383.5,878.4 399.5,880.1 415.5,881.3 431.5,882.3 447.5,880.1 463.5,875.1 479.5,867.5 495.5,858.2 511.5,848.1 527.5,841.9 543.5,835.5 559.5,828.0 575.5,819.9 591.5,810.3 607.5,803.9 623.5,801.0 639.5,801.2 655.5,804.4 671.5,806.6 687.5,808.3 703.5,808.9 719.5,812.8 735.5,820.7 751.5,830.5 767.5,838.9 783.5,846.5 799.5,851.5 815.5,855.7 831.5,859.6 847.5,865.5 863.5,868.0 879.5,869.2 895.5,865.0 911.5,859.9 927.5,854.9 943.5,851.5 959.5,849.2 975.5,849.5 991.5,847.5 1007.5,842.5 1023.5,836.1 1039.5,835.2 1055.5,833.1 1071.5,829.4 1087.5,820.1 1103.5,806.6 1119.5,791.5 1135.5,777.2 1151.5,762.1 1167.5,751.1 1183.5,741.0 1199.5,735.1 1215.5,733.5 1231.5,734.3 1247.5,733.1 1263.5,733.5 1279.5,737.2 1295.5,743.5 1311.5,749.4 1327.5,751.0 1343.5,747.7 1359.5,738.4 1375.5,726.6 1391.5,716.5 1407.5,710.3 1423.5,702.2 1439.5,691.3 1455.5,677.0 1471.5,665.6 1487.5,657.7 1503.5,655.5 1519.5,660.5 1535.5,665.2 1551.5,664.4 1567.5,658.2 1583.5,651.4 1599.5,645.1 1615.5,642.1 1631.5,639.2 1647.5,635.0 1663.5,630.3 1679.5,626.6 1695.5,624.4 1711.5,623.2 1727.5,623.2 1743.5,623.6 1759.5,625.2 1775.5,629.4 1791.5,633.6 1807.5,638.4 1823.5,643.4 1839.5,648.8" fill="none" stroke="#ff0000" stroke-width="3" stroke-linejoin="round" stroke-linecap="round" shape-rendering="crispEdges"/>
<g class="t"><text x="3" y="614" font-size="10" textLength="106" lengthAdjust="spacingAndGlyphs">Stoch(37,3,9) 82.34 84.30</text></g>
<rect x="1861" y="0" width="41" height="920" fill="#000"/>
<rect x="0" y="904" width="1902" height="16" fill="#000"/>
<g fill="#fff" shape-rendering="crispEdges">
<rect x="1860" y="0" width="1" height="600"/>
<rect x="1860" y="601" width="1" height="303"/>
<rect x="0" y="599" width="1861" height="1"/>
<rect x="0" y="601" width="1861" height="1"/>
<rect x="0" y="903" width="1861" height="1"/>
<rect x="1860" y="18" width="5" height="1"/><rect x="1860" y="50" width="5" height="1"/><rect x="1860" y="83" width="5" height="1"/><rect x="1860" y="115" width="5" height="1"/><rect x="1860" y="147" width="5" height="1"/><rect x="1860" y="179" width="5" height="1"/><rect x="1860" y="212" width="5" height="1"/><rect x="1860" y="244" width="5" height="1"/><rect x="1860" y="276" width="5" height="1"/><rect x="1860" y="309" width="5" height="1"/><rect x="1860" y="341" width="5" height="1"/><rect x="1860" y="373" width="5" height="1"/><rect x="1860" y="405" width="5" height="1"/><rect x="1860" y="438" width="5" height="1"/><rect x="1860" y="470" width="5" height="1"/><rect x="1860" y="502" width="5" height="1"/><rect x="1860" y="534" width="5" height="1"/><rect x="1860" y="567" width="5" height="1"/><rect x="1860" y="602" width="5" height="1"/><rect x="1860" y="661" width="5" height="1"/><rect x="1860" y="843" width="5" height="1"/><rect x="1860" y="902" width="5" height="1"/><rect x="-1" y="904" width="1" height="4"/><rect x="63" y="904" width="1" height="4"/><rect x="127" y="904" width="1" height="4"/><rect x="191" y="904" width="1" height="4"/><rect x="255" y="904" width="1" height="4"/><rect x="319" y="904" width="1" height="4"/><rect x="383" y="904" width="1" height="4"/><rect x="447" y="904" width="1" height="4"/><rect x="511" y="904" width="1" height="4"/><rect x="575" y="904" width="1" height="4"/><rect x="639" y="904" width="1" height="4"/><rect x="703" y="904" width="1" height="4"/><rect x="767" y="904" width="1" height="4"/><rect x="831" y="904" width="1" height="4"/><rect x="895" y="904" width="1" height="4"/><rect x="959" y="904" width="1" height="4"/><rect x="1023" y="904" width="1" height="4"/><rect x="1087" y="904" width="1" height="4"/><rect x="1151" y="904" width="1" height="4"/><rect x="1215" y="904" width="1" height="4"/><rect x="1279" y="904" width="1" height="4"/><rect x="1343" y="904" width="1" height="4"/><rect x="1407" y="904" width="1" height="4"/><rect x="1471" y="904" width="1" height="4"/><rect x="1535" y="904" width="1" height="4"/><rect x="1599" y="904" width="1" height="4"/><rect x="1663" y="904" width="1" height="4"/><rect x="1727" y="904" width="1" height="4"/><rect x="1791" y="904" width="1" height="4"/>
</g>
<g class="t"><text x="1866" y="22" font-size="10" textLength="32" lengthAdjust="spacingAndGlyphs">1.09430</text></g>
<g class="t"><text x="1866" y="54" font-size="10" textLength="32" lengthAdjust="spacingAndGlyphs">1.09000</text></g>
<g class="t"><text x="1866" y="87" font-size="10" textLength="32" lengthAdjust="spacingAndGlyphs">1.08570</text></g>
<g class="t"><text x="1866" y="119" font-size="10" textLength="32" lengthAdjust="spacingAndGlyphs">1.08140</text></g>
<g class="t"><text x="1866" y="151" font-size="10" textLength="32" lengthAdjust="spacingAndGlyphs">1.07710</text></g>
<g class="t"><text x="1866" y="183" font-size="10" textLength="32" lengthAdjust="spacingAndGlyphs">1.07280</text></g>
<g class="t"><text x="1866" y="216" font-size="10" textLength="32" lengthAdjust="spacingAndGlyphs">1.06850</text></g>
<g class="t"><text x="1866" y="248" font-size="10" textLength="32" lengthAdjust="spacingAndGlyphs">1.06420</text></g>
<g class="t"><text x="1866" y="280" font-size="10" textLength="32" lengthAdjust="spacingAndGlyphs">1.05990</text></g>
<g class="t"><text x="1866" y="313" font-size="10" textLength="32" lengthAdjust="spacingAndGlyphs">1.05560</text></g>
<g class="t"><text x="1866" y="345" font-size="10" textLength="32" lengthAdjust="spacingAndGlyphs">1.05130</text></g>
<g class="t"><text x="1866" y="377" font-size="10" textLength="32" lengthAdjust="spacingAndGlyphs">1.04700</text></g>
<g class="t"><text x="1866" y="409" font-size="10" textLength="32" lengthAdjust="spacingAndGlyphs">1.04270</text></g>
<g class="t"><text x="1866" y="442" font-size="10" textLength="32" lengthAdjust="spacingAndGlyphs">1.03840</text></g>
<g class="t"><text x="1866" y="474" font-size="10" textLength="32" lengthAdjust="spacingAndGlyphs">1.03410</text></g>
<g class="t"><text x="1866" y="506" font-size="10" textLength="32" lengthAdjust="spacingAndGlyphs">1.02980</text></g>
<g class="t"><text x="1866" y="538" font-size="10" textLength="32" lengthAdjust="spacingAndGlyphs">1.02550</text></g>
<g class="t"><text x="1866" y="571" font-size="10" textLength="32" lengthAdjust="spacingAndGlyphs">1.02120</text></g>
<rect x="1863" y="125" width="39" height="12" fill="#778899"/>
<g class="t"><text x="1866" y="134" font-size="10" textLength="32" lengthAdjust="spacingAndGlyphs" style="fill:#000">1.07944</text></g>
<g class="t"><text x="1866" y="610" font-size="10" textLength="28" lengthAdjust="spacingAndGlyphs">100.00</text></g>
<g class="t"><text x="1866" y="665" font-size="10" textLength="23" lengthAdjust="spacingAndGlyphs">80.00</text></g>
<g class="t"><text x="1866" y="847" font-size="10" textLength="23" lengthAdjust="spacingAndGlyphs">20.00</text></g>
<g class="t"><text x="1866" y="901" font-size="10" textLength="18" lengthAdjust="spacingAndGlyphs">0.00</text></g>
<g class="t"><text x="-1" y="916" font-size="10" textLength="51" lengthAdjust="spacingAndGlyphs">16 Oct 2024</text></g>
<g class="t"><text x="63" y="916" font-size="10" textLength="51" lengthAdjust="spacingAndGlyphs">22 Oct 2024</text></g>
<g class="t"><text x="127" y="916" font-size="10" textLength="51" lengthAdjust="spacingAndGlyphs">28 Oct 2024</text></g>
<g class="t"><text x="191" y="916" font-size="10" textLength="49" lengthAdjust="spacingAndGlyphs">1 Nov 2024</text></g>
<g class="t"><text x="255" y="916" font-size="10" textLength="49" lengthAdjust="spacingAndGlyphs">7 Nov 2024</text></g>
<g class="t"><text x="319" y="916" font-size="10" textLength="54" lengthAdjust="spacingAndGlyphs">13 Nov 2024</text></g>
<g class="t"><text x="383" y="916" font-size="10" textLength="54" lengthAdjust="spacingAndGlyphs">19 Nov 2024</text></g>
<g class="t"><text x="447" y="916" font-size="10" textLength="54" lengthAdjust="spacingAndGlyphs">25 Nov 2024</text></g>
<g class="t"><text x="511" y="916" font-size="10" textLength="54" lengthAdjust="spacingAndGlyphs">29 Nov 2024</text></g>
<g class="t"><text x="575" y="916" font-size="10" textLength="47" lengthAdjust="spacingAndGlyphs">5 Dec 2024</text></g>
<g class="t"><text x="639" y="916" font-size="10" textLength="52" lengthAdjust="spacingAndGlyphs">11 Dec 2024</text></g>
<g class="t"><text x="703" y="916" font-size="10" textLength="52" lengthAdjust="spacingAndGlyphs">17 Dec 2024</text></g>
<g class="t"><text x="767" y="916" font-size="10" textLength="52" lengthAdjust="spacingAndGlyphs">23 Dec 2024</text></g>
<g class="t"><text x="831" y="916" font-size="10" textLength="52" lengthAdjust="spacingAndGlyphs">30 Dec 2024</text></g>
<g class="t"><text x="895" y="916" font-size="10" textLength="45" lengthAdjust="spacingAndGlyphs">6 Jan 2025</text></g>
<g class="t"><text x="959" y="916" font-size="10" textLength="50" lengthAdjust="spacingAndGlyphs">10 Jan 2025</text></g>
<g class="t"><text x="1023" y="916" font-size="10" textLength="50" lengthAdjust="spacingAndGlyphs">16 Jan 2025</text></g>
<g class="t"><text x="1087" y="916" font-size="10" textLength="50" lengthAdjust="spacingAndGlyphs">22 Jan 2025</text></g>
<g class="t"><text x="1151" y="916" font-size="10" textLength="50" lengthAdjust="spacingAndGlyphs">28 Jan 2025</text></g>
<g class="t"><text x="1215" y="916" font-size="10" textLength="46" lengthAdjust="spacingAndGlyphs">3 Feb 2025</text></g>
<g class="t"><text x="1279" y="916" font-size="10" textLength="46" lengthAdjust="spacingAndGlyphs">7 Feb 2025</text></g>
<g class="t"><text x="1343" y="916" font-size="10" textLength="51" lengthAdjust="spacingAndGlyphs">13 Feb 2025</text></g>
<g class="t"><text x="1407" y="916" font-size="10" textLength="51" lengthAdjust="spacingAndGlyphs">19 Feb 2025</text></g>
<g class="t"><text x="1471" y="916" font-size="10" textLength="51" lengthAdjust="spacingAndGlyphs">25 Feb 2025</text></g>
<g class="t"><text x="1535" y="916" font-size="10" textLength="47" lengthAdjust="spacingAndGlyphs">3 Mar 2025</text></g>
<g class="t"><text x="1599" y="916" font-size="10" textLength="47" lengthAdjust="spacingAndGlyphs">7 Mar 2025</text></g>
<g class="t"><text x="1663" y="916" font-size="10" textLength="52" lengthAdjust="spacingAndGlyphs">13 Mar 2025</text></g>
<g class="t"><text x="1727" y="916" font-size="10" textLength="52" lengthAdjust="spacingAndGlyphs">19 Mar 2025</text></g>
<g class="t"><text x="1791" y="916" font-size="10" textLength="52" lengthAdjust="spacingAndGlyphs">25 Mar 2025</text></g>
<g shape-rendering="crispEdges"><rect x="4" y="3" width="7" height="1" fill="#e23a3a"/><rect x="11" y="3" width="7" height="1" fill="#3ccac2"/><rect x="4" y="4" width="1" height="1" fill="#e23a3a"/><rect x="5" y="4" width="13" height="1" fill="#ffffff"/><rect x="18" y="4" width="1" height="1" fill="#3ccac2"/><rect x="4" y="5" width="1" height="1" fill="#e23a3a"/><rect x="5" y="5" width="1" height="1" fill="#ffffff"/><rect x="6" y="5" width="5" height="1" fill="#d22c2c"/><rect x="11" y="5" width="1" height="1" fill="#ffffff"/><rect x="12" y="5" width="5" height="1" fill="#1fa89f"/><rect x="17" y="5" width="1" height="1" fill="#ffffff"/><rect x="18" y="5" width="1" height="1" fill="#3ccac2"/><rect x="4" y="6" width="1" height="1" fill="#e23a3a"/><rect x="5" y="6" width="7" height="1" fill="#ffffff"/><rect x="12" y="6" width="5" height="1" fill="#d9c5c5"/><rect x="17" y="6" width="1" height="1" fill="#ffffff"/><rect x="18" y="6" width="1" height="1" fill="#3ccac2"/><rect x="4" y="7" width="1" height="1" fill="#e23a3a"/><rect x="5" y="7" width="7" height="1" fill="#ffffff"/><rect x="12" y="7" width="5" height="1" fill="#d9c5c5"/><rect x="17" y="7" width="1" height="1" fill="#ffffff"/><rect x="18" y="7" width="1" height="1" fill="#3ccac2"/><rect x="4" y="8" width="1" height="1" fill="#e23a3a"/><rect x="5" y="8" width="1" height="1" fill="#ffffff"/><rect x="6" y="8" width="5" height="1" fill="#d22c2c"/><rect x="11" y="8" width="1" height="1" fill="#ffffff"/><rect x="12" y="8" width="5" height="1" fill="#1fa89f"/><rect x="17" y="8" width="1" height="1" fill="#ffffff"/><rect x="18" y="8" width="1" height="1" fill="#3ccac2"/><rect x="4" y="9" width="1" height="1" fill="#e23a3a"/><rect x="5" y="9" width="7" height="1" fill="#ffffff"/><rect x="12" y="9" width="5" height="1" fill="#d9c5c5"/><rect x="17" y="9" width="1" height="1" fill="#ffffff"/><rect x="18" y="9" width="1" height="1" fill="#3ccac2"/><rect x="4" y="10" width="1" height="1" fill="#e23a3a"/><rect x="5" y="10" width="7" height="1" fill="#ffffff"/><rect x="12" y="10" width="5" height="1" fill="#d9c5c5"/><rect x="17" y="10" width="1" height="1" fill="#ffffff"/><rect x="18" y="10" width="1" height="1" fill="#3ccac2"/><rect x="4" y="11" width="1" height="1" fill="#e23a3a"/><rect x="5" y="11" width="1" height="1" fill="#ffffff"/><rect x="6" y="11" width="5" height="1" fill="#d22c2c"/><rect x="11" y="11" width="1" height="1" fill="#ffffff"/><rect x="12" y="11" width="5" height="1" fill="#1fa89f"/><rect x="17" y="11" width="1" height="1" fill="#ffffff"/><rect x="18" y="11" width="1" height="1" fill="#3ccac2"/><rect x="4" y="12" width="1" height="1" fill="#e23a3a"/><rect x="5" y="12" width="13" height="1" fill="#ffffff"/><rect x="18" y="12" width="1" height="1" fill="#3ccac2"/><rect x="4" y="13" width="7" height="1" fill="#e23a3a"/><rect x="11" y="13" width="8" height="1" fill="#3ccac2"/><rect x="25" y="3" width="4" height="1" fill="#e23a3a"/><rect x="30" y="3" width="5" height="1" fill="#8898b0"/><rect x="36" y="3" width="3" height="1" fill="#3ccac2"/><rect x="25" y="4" width="1" height="1" fill="#e23a3a"/><rect x="26" y="4" width="2" height="1" fill="#ffffff"/><rect x="28" y="4" width="1" height="1" fill="#e23a3a"/><rect x="30" y="4" width="1" height="1" fill="#8898b0"/><rect x="31" y="4" width="3" height="1" fill="#ffffff"/><rect x="34" y="4" width="1" height="1" fill="#8898b0"/><rect x="36" y="4" width="1" height="1" fill="#3ccac2"/><rect x="37" y="4" width="2" height="1" fill="#d9c5c5"/><rect x="39" y="4" width="1" height="1" fill="#3ccac2"/><rect x="25" y="5" width="1" height="1" fill="#e23a3a"/><rect x="26" y="5" width="2" height="1" fill="#ffffff"/><rect x="28" y="5" width="1" height="1" fill="#e23a3a"/><rect x="30" y="5" width="5" height="1" fill="#8898b0"/><rect x="36" y="5" width="1" height="1" fill="#3ccac2"/><rect x="37" y="5" width="2" height="1" fill="#d9c5c5"/><rect x="39" y="5" width="1" height="1" fill="#3ccac2"/><rect x="25" y="6" width="1" height="1" fill="#e23a3a"/><rect x="26" y="6" width="2" height="1" fill="#ffffff"/><rect x="28" y="6" width="1" height="1" fill="#e23a3a"/><rect x="36" y="6" width="1" height="1" fill="#3ccac2"/><rect x="37" y="6" width="2" height="1" fill="#d9c5c5"/><rect x="39" y="6" width="1" height="1" fill="#3ccac2"/><rect x="25" y="7" width="1" height="1" fill="#e23a3a"/><rect x="26" y="7" width="2" height="1" fill="#ffffff"/><rect x="28" y="7" width="4" height="1" fill="#e23a3a"/><rect x="33" y="7" width="4" height="1" fill="#3ccac2"/><rect x="37" y="7" width="2" height="1" fill="#d9c5c5"/><rect x="39" y="7" width="1" height="1" fill="#3ccac2"/><rect x="25" y="8" width="1" height="1" fill="#e23a3a"/><rect x="26" y="8" width="5" height="1" fill="#ffffff"/><rect x="31" y="8" width="1" height="1" fill="#e23a3a"/><rect x="33" y="8" width="1" height="1" fill="#3ccac2"/><rect x="34" y="8" width="5" height="1" fill="#d9c5c5"/><rect x="39" y="8" width="1" height="1" fill="#3ccac2"/><rect x="25" y="9" width="1" height="1" fill="#e23a3a"/><rect x="26" y="9" width="2" height="1" fill="#ffffff"/><rect x="28" y="9" width="1" height="1" fill="#8a8a8a"/><rect x="29" y="9" width="2" height="1" fill="#ffffff"/><rect x="31" y="9" width="1" height="1" fill="#e23a3a"/><rect x="33" y="9" width="1" height="1" fill="#3ccac2"/><rect x="34" y="9" width="2" height="1" fill="#d9c5c5"/><rect x="36" y="9" width="1" height="1" fill="#ffffff"/><rect x="37" y="9" width="2" height="1" fill="#d9c5c5"/><rect x="39" y="9" width="1" height="1" fill="#3ccac2"/><rect x="25" y="10" width="1" height="1" fill="#e23a3a"/><rect x="26" y="10" width="2" height="1" fill="#ffffff"/><rect x="28" y="10" width="1" height="1" fill="#8a8a8a"/><rect x="29" y="10" width="2" height="1" fill="#ffffff"/><rect x="31" y="10" width="1" height="1" fill="#e23a3a"/><rect x="33" y="10" width="1" height="1" fill="#3ccac2"/><rect x="34" y="10" width="4" height="1" fill="#d9c5c5"/><rect x="38" y="10" width="1" height="1" fill="#ffffff"/><rect x="39" y="10" width="1" height="1" fill="#3ccac2"/><rect x="25" y="11" width="1" height="1" fill="#e23a3a"/><rect x="26" y="11" width="5" height="1" fill="#ffffff"/><rect x="31" y="11" width="1" height="1" fill="#e23a3a"/><rect x="33" y="11" width="1" height="1" fill="#3ccac2"/><rect x="34" y="11" width="2" height="1" fill="#d9c5c5"/><rect x="36" y="11" width="1" height="1" fill="#ffffff"/><rect x="37" y="11" width="2" height="1" fill="#d9c5c5"/><rect x="39" y="11" width="1" height="1" fill="#3ccac2"/><rect x="25" y="12" width="1" height="1" fill="#e23a3a"/><rect x="26" y="12" width="5" height="1" fill="#ffffff"/><rect x="31" y="12" width="1" height="1" fill="#e23a3a"/><rect x="33" y="12" width="1" height="1" fill="#3ccac2"/><rect x="34" y="12" width="5" height="1" fill="#d9c5c5"/><rect x="39" y="12" width="1" height="1" fill="#3ccac2"/><rect x="25" y="13" width="7" height="1" fill="#e23a3a"/><rect x="33" y="13" width="7" height="1" fill="#3ccac2"/></g>
</svg>
</body></html>
